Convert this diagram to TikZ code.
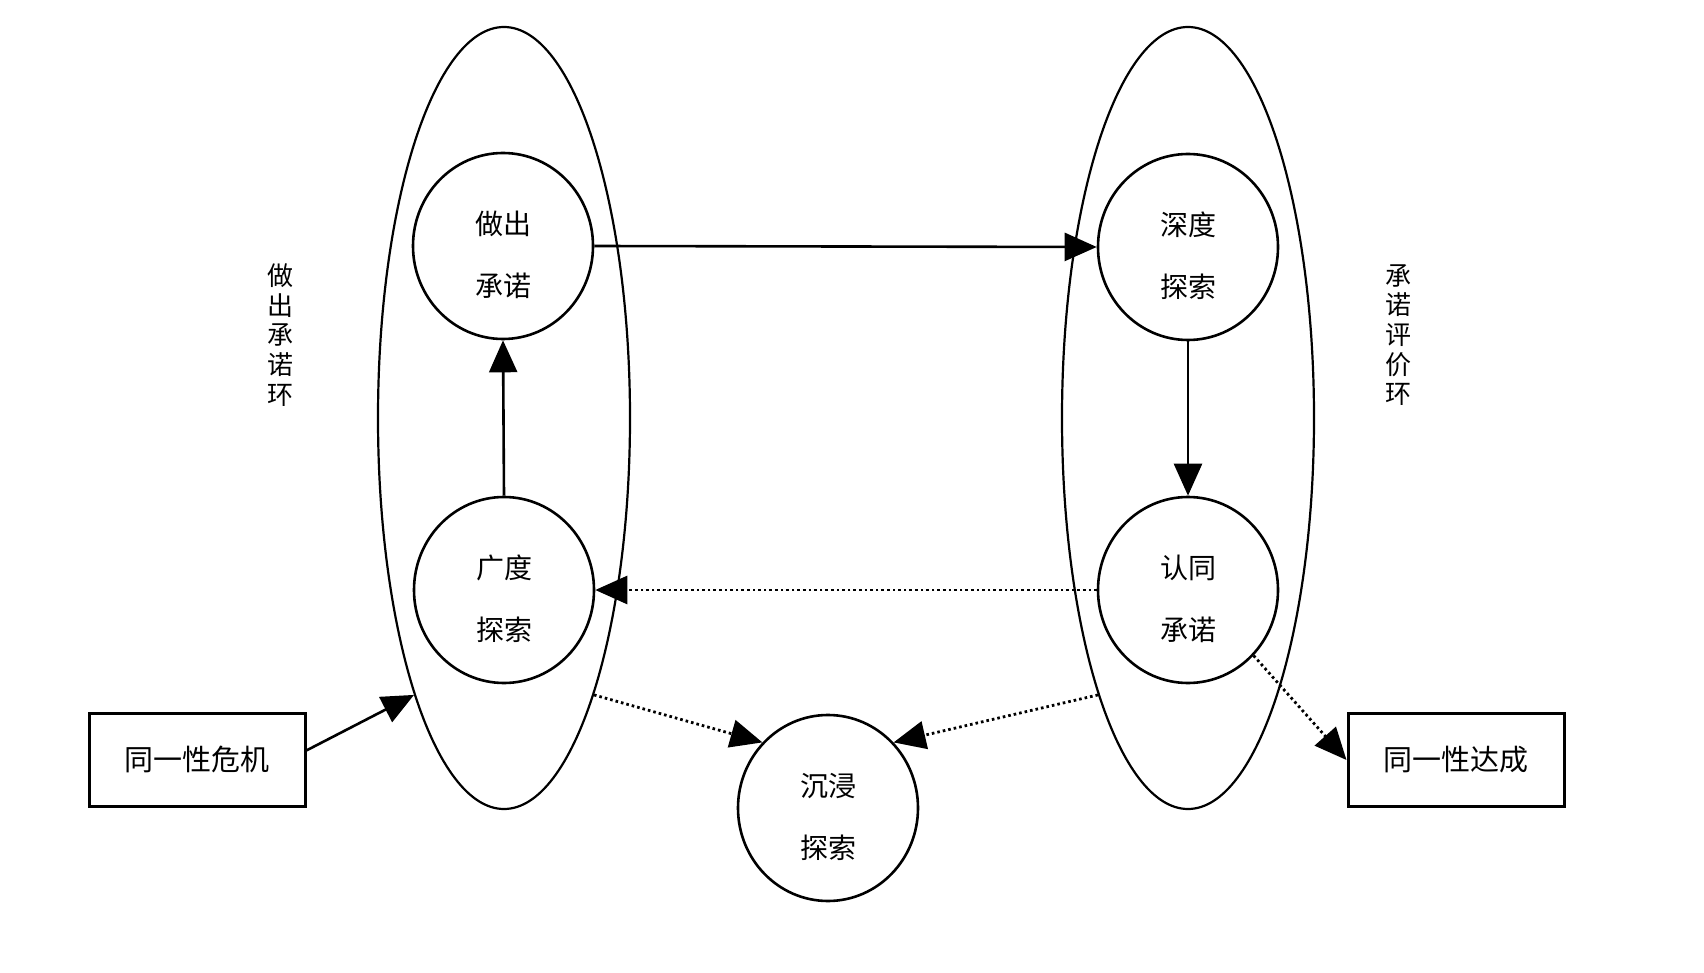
\documentclass[tikz,border=0pt]{standalone}
\usepackage{fontspec}
\newfontfamily\cjk{Noto Sans CJK SC}
\usetikzlibrary{positioning, calc, shapes.geometric, arrows.meta}

\begin{document}
\begin{tikzpicture}[x=0.5pt, y=-0.5pt,
    ring/.style={draw, ellipse, line width=1.1pt, minimum width=126pt, minimum height=391pt, inner sep=0pt},
    stage/.style={draw, ellipse, line width=1.3pt, minimum width=90pt, minimum height=93pt, inner sep=0pt, align=center, text height=52pt, font=\cjk\fontsize{14}{31}\selectfont},
    status/.style={draw, rectangle, line width=1.5pt, minimum width=108pt, minimum height=46.5pt, font=\cjk\fontsize{14.5}{17}\selectfont},
    looplabel/.style={align=center, font=\cjk\fontsize{13}{14.8}\selectfont},
    flow/.style={-{Triangle[length=16pt, width=14pt]}, line width=1.3pt},
    weak/.style={flow, line width=1.4pt, dash pattern=on 1.3pt off 1.5pt}]
                \useasboundingbox (0,0) rectangle (1704,973);

                \node[ring] (Lring) at (504,418) {};
                \node[ring] (Rring) at (1188,418) {};

                \node[stage] (Commit)  at (503,246)  {做出\\承诺};
                \node[stage] (Broad)   at (504,590)  {广度\\探索};
                \node[stage] (Deep)    at (1188,247) {深度\\探索};
                \node[stage] (Ident)   at (1188,590) {认同\\承诺};
                \node[stage] (Immerse) at (828,808)  {沉浸\\探索};

                \node[status] (Crisis)  at (197,760)  {同一性危机};
                \node[status] (Achieve) at (1456,760) {同一性达成};

                \node[looplabel] (Lname) at (280,335)  {做\\出\\承\\诺\\环};
                \node[looplabel] (Rname) at (1398,335) {承\\诺\\评\\价\\环};

                \draw[flow] (Commit.east) -- (Deep.west);
                \draw[flow] (Broad.north) -- (Commit.south);
                \draw[flow] (Deep.south) -- (Ident.north);
                \draw[flow] (Crisis.5) -- (Lring.-108);

                \draw[weak] (Ident.west) -- (Broad.east);
                \draw[weak] (Lring.-72) -- (Immerse.135);
                \draw[weak] (Rring.-108) -- (Immerse.45);
                \draw[weak] (Ident.-45) -- (Achieve.west);
            \end{tikzpicture}
\end{document}
